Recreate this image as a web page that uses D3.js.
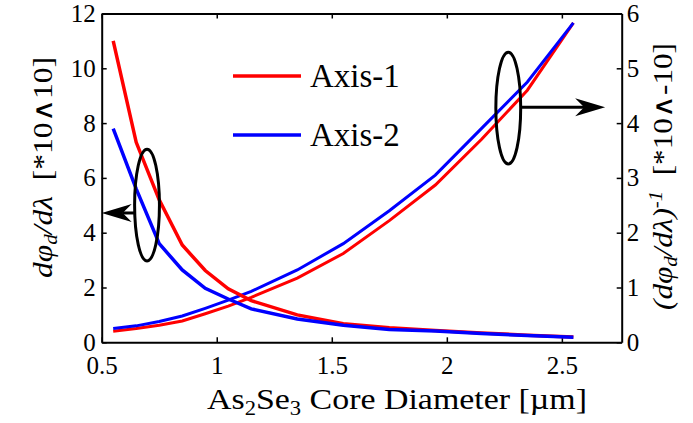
<!DOCTYPE html>
<html>
<head>
<meta charset="utf-8">
<script src="https://cdn.jsdelivr.net/npm/d3@7"></script>
<style>
  svg text, svg tspan { font-family: "Liberation Serif" !important; }
</style>
</head>
<body style="margin:0">
<script>
// core diameter [um]
const diameters = [0.55, 0.65, 0.75, 0.85, 0.95, 1.05, 1.15, 1.35, 1.55, 1.75, 1.95, 2.15, 2.35, 2.55];
// d(phi_d)/d(lambda), left axis
const slopeAxis1 = [11.0, 7.3, 5.2, 3.55, 2.62, 1.95, 1.52, 1.0, 0.68, 0.53, 0.43, 0.34, 0.26, 0.19];
const slopeAxis2 = [7.8, 5.6, 3.6, 2.64, 1.97, 1.58, 1.22, 0.85, 0.62, 0.47, 0.41, 0.32, 0.25, 0.18];
// inverse, right axis
const invAxis1 = [0.2, 0.25, 0.31, 0.39, 0.52, 0.66, 0.82, 1.17, 1.62, 2.22, 2.87, 3.7, 4.6, 5.83];
const invAxis2 = [0.25, 0.3, 0.38, 0.48, 0.62, 0.77, 0.93, 1.32, 1.8, 2.4, 3.05, 3.9, 4.75, 5.83];

const xTicks = [0.5, 1, 1.5, 2, 2.5];
const leftTicks = [0, 2, 4, 6, 8, 10, 12];
const rightTicks = [0, 1, 2, 3, 4, 5, 6];
const legendNames = ["Axis-1", "Axis-2"];
const colors = ["#ff0000", "#0000ff"];

const W = 693, H = 423;
const margin = { top: 13.5, right: 71.3, bottom: 80.7, left: 101.7 };
const width = W - margin.left - margin.right;
const height = H - margin.top - margin.bottom;

const svg = d3.select("body").append("svg")
  .attr("width", W).attr("height", H);
const g = svg.append("g").attr("transform", `translate(${margin.left},${margin.top})`);

const x = d3.scaleLinear().domain([0.5, 2.76]).range([0, width]);
const yL = d3.scaleLinear().domain([0, 12]).range([height, 0]);
const yR = d3.scaleLinear().domain([0, 6]).range([height, 0]);

const fmt = d => String(d);

// axes, ticks pointing inward
const axB = g.append("g").attr("transform", `translate(0,${height})`)
  .call(d3.axisBottom(x).tickValues(xTicks).tickFormat(fmt).tickSizeInner(-5).tickSizeOuter(0).tickPadding(14));
const axT = g.append("g")
  .call(d3.axisTop(x).tickValues(xTicks).tickFormat("").tickSizeInner(-5).tickSizeOuter(0));
const axL = g.append("g")
  .call(d3.axisLeft(yL).tickValues(leftTicks).tickFormat(fmt).tickSizeInner(-5).tickSizeOuter(0).tickPadding(6));
const axR = g.append("g").attr("transform", `translate(${width},0)`)
  .call(d3.axisRight(yR).tickValues(rightTicks).tickFormat(fmt).tickSizeInner(-5).tickSizeOuter(0).tickPadding(5));

[axB, axT, axL, axR].forEach(a => {
  a.attr("font-size", 25).attr("font-family", "Liberation Serif");
  a.select(".domain").attr("stroke", "#000").attr("stroke-width", 2);
  a.selectAll(".tick line").attr("stroke", "#000").attr("stroke-width", 1.5);
  a.selectAll(".tick text").attr("fill", "#000");
});

// curves
const lineL = d3.line().x((d, i) => x(diameters[i])).y(d => yL(d));
const lineR = d3.line().x((d, i) => x(diameters[i])).y(d => yR(d));

[invAxis1, invAxis2].forEach((s, k) => {
  g.append("path").datum(s).attr("d", lineR)
    .attr("fill", "none").attr("stroke", colors[k]).attr("stroke-width", 3);
});
[slopeAxis1, slopeAxis2].forEach((s, k) => {
  g.append("path").datum(s).attr("d", lineL)
    .attr("fill", "none").attr("stroke", colors[k]).attr("stroke-width", 3.5);
});

// ellipses + arrows marking which axis
const leftMark = { cx: 0.697, cy: 5.01, rx: 0.054, ry: 2.04, tipX: 0.5, tipY: 4.72 };
const rightMark = { cx: 2.267, cy: 8.55, rx: 0.054, ry: 2.04, tipX: 2.688, tipY: 8.58 };

function mark(m, dir) {
  const cx = x(m.cx), cy = yL(m.cy);
  const rx = x(m.cx + m.rx) - cx, ry = yL(m.cy - m.ry) - cy;
  g.append("ellipse").attr("cx", cx).attr("cy", cy).attr("rx", rx).attr("ry", ry)
    .attr("fill", "none").attr("stroke", "#000").attr("stroke-width", 3);
  const tx = x(m.tipX), ty = yL(m.tipY);
  const startX = cx + dir * rx;
  const hl = 30, hw = 9;
  g.append("line").attr("x1", startX).attr("y1", ty).attr("x2", tx - dir * hl * 0.7).attr("y2", ty)
    .attr("stroke", "#000").attr("stroke-width", 3);
  g.append("path")
    .attr("d", `M${tx},${ty} L${tx - dir * hl},${ty - hw} L${tx - dir * hl * 0.7},${ty} L${tx - dir * hl},${ty + hw} Z`)
    .attr("fill", "#000");
}
mark(leftMark, -1);
mark(rightMark, 1);

// legend
legendNames.forEach((name, i) => {
  const ly = 76 + i * 59;
  svg.append("line").attr("x1", 233).attr("x2", 301).attr("y1", ly).attr("y2", ly)
    .attr("stroke", colors[i]).attr("stroke-width", 3.5);
  svg.append("text").attr("x", 310).attr("y", ly + 11)
    .attr("font-size", 33).text(name);
});

// x label
const xl = svg.append("text").attr("x", 397).attr("y", 409)
  .attr("text-anchor", "middle").attr("font-size", 30)
  .attr("textLength", 380).attr("lengthAdjust", "spacingAndGlyphs");
xl.append("tspan").text("As");
xl.append("tspan").attr("dy", 6).attr("font-size", 20).text("2");
xl.append("tspan").attr("dy", -6).text("Se");
xl.append("tspan").attr("dy", 6).attr("font-size", 20).text("3");
xl.append("tspan").attr("dy", -6).text("\u00a0Core Diameter [\u00b5m]");

// left y label
const yl = svg.append("text").attr("transform", "translate(52,167.5) rotate(-90)")
  .attr("text-anchor", "middle").attr("font-size", 27)
  .attr("textLength", 221).attr("lengthAdjust", "spacingAndGlyphs");
yl.append("tspan").attr("font-style", "italic").text("d\u03c6");
yl.append("tspan").attr("font-style", "italic").attr("font-size", 18).attr("dy", 5).text("d");
yl.append("tspan").attr("font-style", "italic").attr("dy", -5).text("/d\u03bb");
yl.append("tspan").text("\u00a0\u00a0[*10\u222710]");

// right y label
const yr = svg.append("text").attr("transform", "translate(672,176.5) rotate(-90)")
  .attr("text-anchor", "middle").attr("font-size", 27)
  .attr("textLength", 267).attr("lengthAdjust", "spacingAndGlyphs");
yr.append("tspan").attr("font-style", "italic").text("(d\u03c6");
yr.append("tspan").attr("font-style", "italic").attr("font-size", 18).attr("dy", 5).text("d");
yr.append("tspan").attr("font-style", "italic").attr("dy", -5).text("/d\u03bb)");
yr.append("tspan").attr("font-style", "italic").attr("font-size", 18).attr("dy", -10).text("-1");
yr.append("tspan").attr("dy", 10).text("\u00a0\u00a0[*10\u2227-10]");

svg.selectAll("text").attr("font-family", "Liberation Serif");
</script>
</body>
</html>
